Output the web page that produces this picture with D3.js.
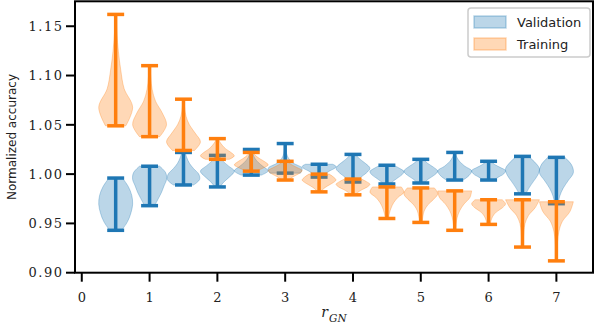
<!DOCTYPE html>
<html>
<head>
<meta charset="utf-8">
<script src="https://cdn.jsdelivr.net/npm/d3@7"></script>
<style>
    body { margin: 0; background: #fff; }
    .tick-label { font-family: "DejaVu Serif", serif; font-size: 13px; fill: #222; letter-spacing: 1.5px; }
    .legend-text { font-family: "DejaVu Sans", sans-serif; font-size: 13px; fill: #222; }
</style>
</head>
<body>
<div id="chart"></div>
<script>
// r_GN positions of the violins
var positions = [0.5, 1, 1.5, 2, 2.5, 3, 3.5, 4, 4.5, 5, 5.5, 6, 6.5, 7];

// whisker extrema
var valMin = [0.943, 0.968, 0.989, 0.987, 0.999, 1.001, 0.997, 0.992, 0.990, 0.991, 0.994, 0.994, 0.980, 0.970];
var valMax = [0.996, 1.008, 1.022, 1.019, 1.025, 1.031, 1.010, 1.020, 1.009, 1.015, 1.022, 1.013, 1.018, 1.017];
var trainMin = [1.049, 1.038, 1.024, 1.015, 1.003, 0.994, 0.982, 0.979, 0.955, 0.951, 0.943, 0.949, 0.926, 0.912];
var trainMax = [1.162, 1.110, 1.076, 1.036, 1.022, 1.013, 1.000, 0.995, 0.987, 0.986, 0.983, 0.974, 0.974, 0.972];

// relative violin width, 7 steps from min (first) to max (last)
var valShape = [
    [0.35, 0.7, 0.9, 1.0, 0.95, 0.75, 0.4],
    [0.3, 0.5, 0.7, 0.85, 1.0, 0.95, 0.6],
    [0.6, 0.95, 0.9, 0.6, 0.35, 0.2, 0.1],
    [0.15, 0.4, 0.75, 1.0, 0.65, 0.3, 0.1],
    [0.6, 1.0, 0.7, 0.4, 0.2, 0.1, 0.05],
    [0.9, 1.0, 0.5, 0.2, 0.08, 0.04, 0.02],
    [0.2, 0.3, 0.45, 0.65, 0.9, 1.0, 0.8],
    [0.2, 0.45, 0.8, 1.0, 0.75, 0.4, 0.15],
    [0.2, 0.4, 0.65, 0.9, 1.0, 0.75, 0.4],
    [0.2, 0.45, 0.8, 1.0, 0.75, 0.4, 0.15],
    [0.5, 0.85, 1.0, 0.6, 0.3, 0.12, 0.05],
    [0.3, 0.6, 0.9, 1.0, 0.7, 0.35, 0.15],
    [0.2, 0.4, 0.65, 0.9, 1.0, 0.75, 0.35],
    [0.1, 0.2, 0.4, 0.7, 1.0, 0.9, 0.5]
];
var trainShape = [
    [0.6, 1.0, 0.5, 0.3, 0.16, 0.07, 0.03],
    [0.6, 1.0, 0.75, 0.35, 0.15, 0.07, 0.03],
    [0.65, 1.0, 0.7, 0.35, 0.15, 0.07, 0.03],
    [0.7, 1.0, 0.8, 0.5, 0.3, 0.15, 0.05],
    [0.3, 0.7, 1.0, 0.8, 0.5, 0.25, 0.1],
    [0.2, 0.45, 0.8, 1.0, 0.7, 0.35, 0.15],
    [0.1, 0.25, 0.5, 0.8, 1.0, 0.85, 0.6],
    [0.15, 0.3, 0.55, 0.85, 1.0, 0.8, 0.5],
    [0.1, 0.15, 0.25, 0.4, 0.65, 1.0, 0.85],
    [0.08, 0.12, 0.2, 0.4, 0.75, 1.0, 0.8],
    [0.05, 0.08, 0.15, 0.3, 0.55, 0.9, 1.0],
    [0.1, 0.15, 0.25, 0.45, 0.8, 1.0, 0.8],
    [0.03, 0.05, 0.08, 0.15, 0.35, 0.75, 1.0],
    [0.03, 0.04, 0.07, 0.15, 0.35, 0.8, 1.0]
];

var xTicks = [0, 1, 2, 3, 4, 5, 6, 7];
var yTicks = [0.90, 0.95, 1.00, 1.05, 1.10, 1.15];
var seriesNames = ["Validation", "Training"];
var seriesColors = ["#1f77b4", "#ff7f0e"];

var W = 598, H = 329;
var margin = {top: 1.3, right: 5, bottom: 56.3, left: 75};
var width = W - margin.left - margin.right,
    height = H - margin.top - margin.bottom;

var svg = d3.select("#chart").append("svg")
    .attr("width", W)
    .attr("height", H);

var g = svg.append("g")
    .attr("transform", "translate(" + margin.left + "," + margin.top + ")");

var x = d3.scaleLinear().domain([-0.1, 7.54]).range([0, width]);
var y = d3.scaleLinear().domain([0.90, 1.1753]).range([height, 0]);

var violinWidth = 0.5;

function drawSeries(mins, maxs, shapes, color) {
    var violins = positions.map(function (p, i) {
        var pts = shapes[i].map(function (w, k) {
            return {v: mins[i] + (maxs[i] - mins[i]) * k / (shapes[i].length - 1), w: w};
        });
        return {pos: p, pts: pts, min: mins[i], max: maxs[i]};
    });

    var area = d3.area()
        .x0(function (d) { return d.x0; })
        .x1(function (d) { return d.x1; })
        .y(function (d) { return d.y; })
        .curve(d3.curveCatmullRom.alpha(0.5));

    g.selectAll(null)
        .data(violins)
        .enter().append("path")
        .attr("d", function (d) {
            return area(d.pts.map(function (q) {
                return {
                    x0: x(d.pos - q.w * violinWidth / 2),
                    x1: x(d.pos + q.w * violinWidth / 2),
                    y: y(q.v)
                };
            }));
        })
        .attr("fill", color)
        .attr("fill-opacity", 0.3)
        .attr("stroke", color)
        .attr("stroke-opacity", 0.3)
        .attr("stroke-width", 1);

    // vertical bar
    g.selectAll(null)
        .data(violins)
        .enter().append("line")
        .attr("x1", function (d) { return x(d.pos); })
        .attr("x2", function (d) { return x(d.pos); })
        .attr("y1", function (d) { return y(d.min); })
        .attr("y2", function (d) { return y(d.max); })
        .attr("stroke", color)
        .attr("stroke-width", 3.5);

    // caps
    ["min", "max"].forEach(function (key) {
        g.selectAll(null)
            .data(violins)
            .enter().append("line")
            .attr("x1", function (d) { return x(d.pos - violinWidth / 4); })
            .attr("x2", function (d) { return x(d.pos + violinWidth / 4); })
            .attr("y1", function (d) { return y(d[key]); })
            .attr("y2", function (d) { return y(d[key]); })
            .attr("stroke", color)
            .attr("stroke-width", 3.5);
    });
}

drawSeries(valMin, valMax, valShape, seriesColors[0]);
drawSeries(trainMin, trainMax, trainShape, seriesColors[1]);

// frame
g.append("rect")
    .attr("x", 0)
    .attr("y", 0)
    .attr("width", width)
    .attr("height", height)
    .attr("fill", "none")
    .attr("stroke", "#000")
    .attr("stroke-width", 2);

// x ticks
g.selectAll(".xtick")
    .data(xTicks)
    .enter().append("line")
    .attr("x1", function (d) { return x(d); })
    .attr("x2", function (d) { return x(d); })
    .attr("y1", height)
    .attr("y2", height + 9)
    .attr("stroke", "#000")
    .attr("stroke-width", 2);

g.selectAll(".xlabel")
    .data(xTicks)
    .enter().append("text")
    .attr("class", "tick-label")
    .attr("x", function (d) { return x(d) + 0.75; })
    .attr("y", height + 29.5)
    .attr("text-anchor", "middle")
    .text(function (d) { return d; });

// y ticks
g.selectAll(".ytick")
    .data(yTicks)
    .enter().append("line")
    .attr("x1", -9)
    .attr("x2", 0)
    .attr("y1", function (d) { return y(d); })
    .attr("y2", function (d) { return y(d); })
    .attr("stroke", "#000")
    .attr("stroke-width", 2);

g.selectAll(".ylabel")
    .data(yTicks)
    .enter().append("text")
    .attr("class", "tick-label")
    .attr("x", -11.5)
    .attr("y", function (d) { return y(d); })
    .attr("dy", "0.36em")
    .attr("text-anchor", "end")
    .text(function (d) { return d3.format(".2f")(d); });

// axis titles
svg.append("text")
    .attr("transform", "translate(16," + (margin.top + height / 2) + ") rotate(-90)")
    .attr("text-anchor", "middle")
    .style("font-family", "DejaVu Sans, sans-serif")
    .style("font-size", "12px")
    .style("fill", "#222")
    .text("Normalized accuracy");

var xt = svg.append("text")
    .attr("x", margin.left + width / 2)
    .attr("y", 316.5)
    .attr("text-anchor", "middle")
    .style("font-family", "DejaVu Serif, serif")
    .style("font-style", "italic")
    .style("fill", "#222");
xt.append("tspan").style("font-size", "14px").text("r");
xt.append("tspan").attr("dy", 5).attr("dx", 1).style("font-size", "10.5px").text("GN");

// legend
var lg = svg.append("g").attr("transform", "translate(468,8)");
lg.append("rect")
    .attr("width", 122)
    .attr("height", 49)
    .attr("rx", 3)
    .attr("fill", "#fff")
    .attr("fill-opacity", 0.8)
    .attr("stroke", "#ccc")
    .attr("stroke-width", 1.5);

var items = lg.selectAll(".legend")
    .data(seriesNames)
    .enter().append("g")
    .attr("class", "legend")
    .attr("transform", function (d, i) { return "translate(0," + i * 22 + ")"; });

items.append("rect")
    .attr("x", 6)
    .attr("y", 8)
    .attr("width", 32)
    .attr("height", 12)
    .attr("fill", function (d, i) { return seriesColors[i]; })
    .attr("fill-opacity", 0.3)
    .attr("stroke", function (d, i) { return seriesColors[i]; })
    .attr("stroke-opacity", 0.3)
    .attr("stroke-width", 1.5);

items.append("text")
    .attr("class", "legend-text")
    .attr("x", 49)
    .attr("y", 19)
    .text(function (d) { return d; });
</script>
</body>
</html>
